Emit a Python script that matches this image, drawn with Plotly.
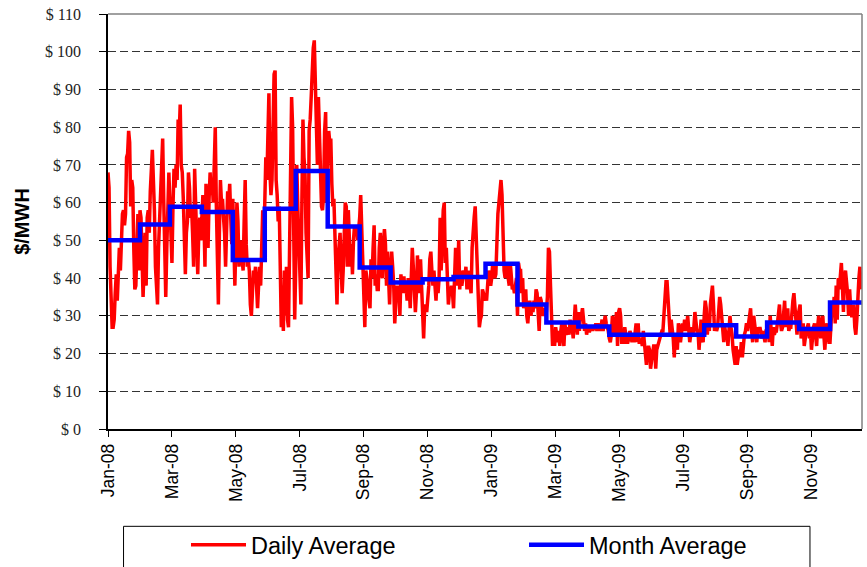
import pandas as pd
import plotly.graph_objects as go

# ---- Daily average prices ($/MWH), one list per month ----
d2008_01 = [68,64,43,31,27,27,29,36,41,34, 45,48,42,52,57,58,54,57,72,73, 79,76,59,66,64,48,37,38,52,57, 42]
d2008_02 = [58,56,44,35,43,52,38,56,58,52, 63,68,74,66,58,43,36,33,48,56, 64,72,77,61,43,35,48,60,68]
d2008_03 = [60,52,44,59,69,64,70,66,82,78, 86,70,68,61,50,41,52,55,68,64, 56,59,52,43,69,61,50,41,52,56, 50]
d2008_04 = [59,62,56,43,65,57,48,61,68,62, 66,60,72,80,60,45,33,52,66,60, 61,56,52,43,56,63,60,65,56,49]
d2008_05 = [61,43,38,50,60,55,43,48,50,45, 42,55,66,49,43,45,42,33,30,36, 42,40,43,38,32,38,43,38,50,58, 48]
d2008_06 = [61,72,66,75,89,68,62,66,88,94, 95,66,62,55,59,45,27,38,26,42, 30,43,29,27,52,70,88,80,55,29]
d2008_07 = [43,70,59,48,39,33,61,82,72,68, 52,43,40,79,82,88,95,101,103,88, 74,70,88,79,66,59,58,62,79,84, 60]
d2008_08 = [72,79,76,77,65,59,61,50,38,33, 45,48,52,43,36,42,52,60,59,43, 58,52,43,49,41,50,54,52,54,50, 53]
d2008_09 = [56,62,54,45,34,27,42,40,38,34, 32,45,40,48,54,38,41,37,37,48, 52,41,40,49,53,49,38,47,40,33]
d2008_10 = [42,47,43,38,28,34,38,34,38,30, 41,36,40,40,36,38,34,40,38,32, 42,48,43,38,31,36,46,40,36,45, 36]
d2008_11 = [30,24,32,33,31,34,38,45,47,42, 38,42,38,34,40,36,40,56,42,54, 58,60,44,48,40,33,36,36,38,36]
d2008_12 = [32,40,48,38,41,50,37,42,38,40, 42,40,43,37,40,42,38,36,48,54, 56,59,50,45,34,27,29,30,37,36, 34]
d2009_01 = [36,34,40,42,40,38,40,44,42,40, 41,51,57,60,63,66,62,51,42,40, 44,42,40,38,44,40,37,38,36,38, 40]
d2009_02 = [30,44,42,42,36,40,32,34,37,30, 28,32,34,30,32,31,34,32,37,36, 32,26,35,34,31,30,32,30]
d2009_03 = [31,35,48,47,38,29,22,26,22,27, 25,23,26,22,26,28,25,22,28,25, 26,27,25,29,26,27,24,30,33,29, 25]
d2009_04 = [31,26,30,30,32,27,26,28,25,27, 26,26,27,27,26,27,27,28,26,28, 27,26,27,29,26,28,30,28,27,26]
d2009_05 = [24,23,25,30,27,25,28,31,22,31, 32,30,23,23,23,27,25,23,23,24, 26,25,23,25,23,26,28,23,28,23, 23]
d2009_06 = [24,22,26,22,19,17,21,22,21,16, 18,21,22,22,16,21,22,23,24,25, 26,26,30,34,39,39,34,26,25,29]
d2009_07 = [27,24,19,25,23,21,28,27,23,25, 28,26,29,26,27,30,26,23,25,27, 25,27,31,27,26,26,21,25,29,24, 23]
d2009_08 = [30,34,32,25,28,26,33,36,38,33, 26,28,26,27,32,35,33,30,26,23, 27,25,26,22,26,30,27,25,21,19, 17]
d2009_09 = [22,17,19,21,19,23,19,24,25,26, 28,26,28,31,32,26,23,30,27,26, 23,27,26,27,25,24,26,24,23,26]
d2009_10 = [26,28,23,30,26,22,27,25,26,26, 28,31,33,28,26,27,32,34,27,29, 32,26,27,27,33,34,36,33,29,25, 30]
d2009_11 = [32,33,24,26,28,22,25,26,27,28, 24,26,21,26,27,28,25,22,27,30, 28,24,27,30,25,21,26,28,25,23]
d2009_12 = [23,28,33,30,35,28,38,29,40,37, 43,44,38,31,40,42,39,36,30,37, 32,30,30,33,27,25,29,36,40,43, 37]

daily_months = [d2008_01, d2008_02, d2008_03, d2008_04, d2008_05, d2008_06,
                d2008_07, d2008_08, d2008_09, d2008_10, d2008_11, d2008_12,
                d2009_01, d2009_02, d2009_03, d2009_04, d2009_05, d2009_06,
                d2009_07, d2009_08, d2009_09, d2009_10, d2009_11, d2009_12]

# ---- Monthly averages ($/MWH) ----
month_avg = [50.0, 54.2, 58.9, 57.5, 44.8, 58.4, 68.4, 53.7, 42.8, 38.8, 39.7, 40.3,
             43.8, 33.0, 28.2, 27.2, 25.0, 25.0, 25.0, 27.5, 24.5, 28.2, 26.5, 33.5]

# ---- Axis tick labels ----
x_tick_labels = ["Jan-08", "Mar-08", "May-08", "Jul-08", "Sep-08", "Nov-08",
                 "Jan-09", "Mar-09", "May-09", "Jul-09", "Sep-09", "Nov-09"]
y_tick_values = [0, 10, 20, 30, 40, 50, 60, 70, 80, 90, 100, 110]
y_tick_labels = ["$ 0", "$ 10", "$ 20", "$ 30", "$ 40", "$ 50", "$ 60",
                 "$ 70", "$ 80", "$ 90", "$ 100", "$ 110"]

month_starts = pd.date_range("2008-01-01", periods=len(daily_months), freq="MS")

daily_x, daily_y = [], []
for start, vals in zip(month_starts, daily_months):
    daily_x.extend(pd.date_range(start, periods=len(vals), freq="D"))
    daily_y.extend(vals)

end_date = pd.Timestamp("2010-01-01")
avg_x = list(month_starts) + [end_date]
avg_y = month_avg + [month_avg[-1]]

tick_dates = pd.date_range("2008-01-01", periods=len(x_tick_labels), freq="62D")

fig = go.Figure()
fig.add_trace(go.Scatter(x=daily_x, y=daily_y, mode="lines", name="Daily Average",
                         line=dict(color="#FF0000", width=3.5)))
fig.add_trace(go.Scatter(x=avg_x, y=avg_y, mode="lines", name="Month Average",
                         line=dict(color="#0000FF", width=4.5, shape="hv")))

fig.update_layout(
    width=867, height=567,
    margin=dict(l=108, r=5, t=14, b=138, autoexpand=False),
    paper_bgcolor="white", plot_bgcolor="white",
    showlegend=True,
    legend=dict(orientation="h", xref="container", yref="container",
                x=186 / 867, xanchor="left", y=1 - 523 / 567, yanchor="top",
                font=dict(family="Liberation Sans, Arial", size=23.5, color="black"),
                itemwidth=55, entrywidth=268, bgcolor="rgba(0,0,0,0)", borderwidth=0),
    shapes=[
        dict(type="line", xref="paper", yref="paper", x0=0, x1=1, y0=1, y1=1,
             line=dict(color="#808080", width=1.5)),
        dict(type="line", xref="paper", yref="paper", x0=1, x1=1, y0=0, y1=1,
             line=dict(color="#808080", width=1.5)),
        dict(type="rect", xref="paper", yref="paper", x0=0.0206, x1=0.931,
             y0=-0.40, y1=-0.2345, line=dict(color="black", width=1)),
    ],
)

fig.update_xaxes(
    type="date", range=["2008-01-01", "2010-01-01"],
    tickmode="array", tickvals=tick_dates, ticktext=x_tick_labels,
    tickangle=-90, ticks="outside", ticklen=6, tickcolor="black",
    tickfont=dict(family="Liberation Sans, Arial", size=17.5, color="black"),
    showline=True, linecolor="black", linewidth=1.5,
    showgrid=False, zeroline=False, automargin=False,
)
fig.update_yaxes(
    range=[0, 110], tickmode="array", tickvals=y_tick_values, ticktext=y_tick_labels,
    ticks="outside", ticklen=7, tickcolor="black", ticklabelstandoff=15,
    tickfont=dict(family="Liberation Serif, Times New Roman", size=16, color="#222"),
    showline=True, linecolor="black", linewidth=1.5,
    showgrid=True, gridcolor="#333", gridwidth=1, griddash="8px,4px",
    zeroline=False, automargin=False,
    title=dict(text="<b>$/MWH</b>", standoff=10,
               font=dict(family="Liberation Sans, Arial", size=20, color="black")),
)

fig.write_html("out.html", config={"displayModeBar": False},
               post_script="document.body.style.margin='0';")
